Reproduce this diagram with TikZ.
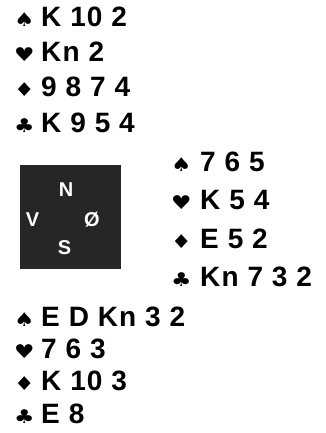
\documentclass[tikz,border=0pt]{standalone}
\usepackage{fontspec}
\setmainfont{Liberation Sans}
\newfontfamily\cardfam{Liberation Sans}[LetterSpace=4]
\newfontfamily\compfam{Liberation Sans}
\newfontfamily\suitfam{DejaVu Sans}[FakeStretch=1.2]
\begin{document}
\begin{tikzpicture}[x=1pt,y=-1pt,
  cardtxt/.style={anchor=base west, inner sep=0pt, font=\cardfam\bfseries\fontsize{28}{28}\selectfont},
  suitsym/.style={anchor=base west, inner sep=0pt, font=\suitfam\fontsize{19}{19}\selectfont},
  compass/.style={anchor=base, inner sep=0pt, text=white, font=\compfam\bfseries\fontsize{20}{20}\selectfont}]
\useasboundingbox (0,0) rectangle (325,433);
\fill[white] (0,0) rectangle (325,433);
% North
\node[suitsym] (ns1) at (14,27)  {♠};
\node[cardtxt] (nt1) at (41,27)  {K 10 2};
\node[suitsym] (ns2) at (14,62)  {♥};
\node[cardtxt] (nt2) at (41,62)  {Kn 2};
\node[suitsym] (ns3) at (14,97)  {♦};
\node[cardtxt] (nt3) at (41,97)  {9 8 7 4};
\node[suitsym] (ns4) at (14,132) {♣};
\node[cardtxt] (nt4) at (41,132) {K 9 5 4};
% compass box
\node[fill=black!85, minimum width=101pt, minimum height=104pt, inner sep=0pt] (box) at (70.5,217) {};
\node[compass] (cn) at (66,196) {N};
\node[compass] (cv) at (32.5,226) {V};
\node[compass] (ce) at (92,226) {Ø};
\node[compass] (cs) at (64.5,254) {S};
% East
\node[suitsym] (es1) at (171,171) {♠};
\node[cardtxt] (et1) at (200,171) {7 6 5};
\node[suitsym] (es2) at (171,209.5) {♥};
\node[cardtxt] (et2) at (200,209.5) {K 5 4};
\node[suitsym] (es3) at (171,248) {♦};
\node[cardtxt] (et3) at (200,248) {E 5 2};
\node[suitsym] (es4) at (171,286.5) {♣};
\node[cardtxt] (et4) at (200,286.5) {Kn 7 3 2};
% South
\node[suitsym] (ss1) at (14,326) {♠};
\node[cardtxt] (st1) at (41,326) {E D Kn 3 2};
\node[suitsym] (ss2) at (14,358) {♥};
\node[cardtxt] (st2) at (41,358) {7 6 3};
\node[suitsym] (ss3) at (14,390) {♦};
\node[cardtxt] (st3) at (41,390) {K 10 3};
\node[suitsym] (ss4) at (14,423) {♣};
\node[cardtxt] (st4) at (41,423) {E 8};
\end{tikzpicture}
\end{document}
